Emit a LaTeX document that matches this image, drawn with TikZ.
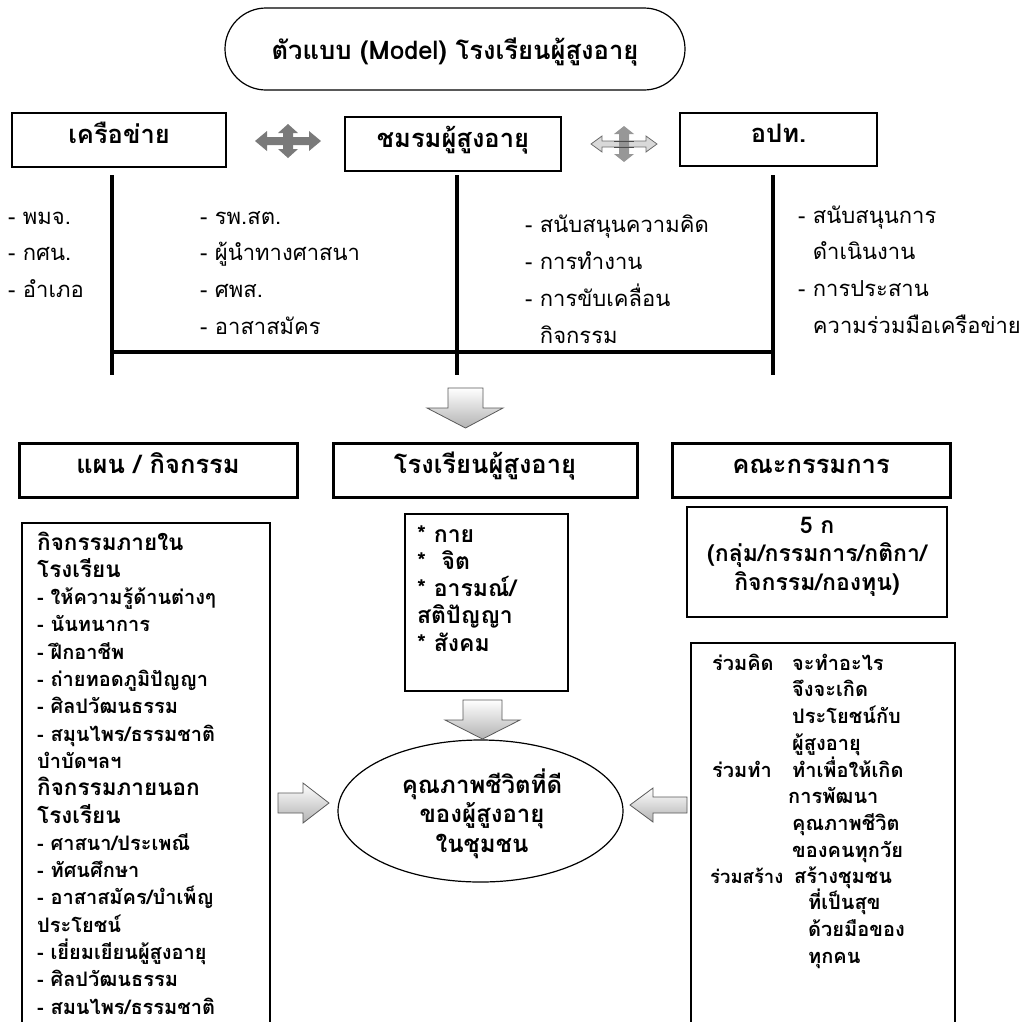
\documentclass[tikz,border=0pt]{standalone}
\usepackage{fontspec}
\setmainfont[Script=Thai]{Loma}
\usetikzlibrary{shapes.misc,shapes.geometric}
\newcommand\fsz[1]{\fontsize{#1}{#1}\selectfont}
\newcommand\Lstack[2]{\vtop{\baselineskip=#1\lineskiplimit=-100pt\lineskip=0pt\halign{##\hfil\cr#2\crcr}}}
\newcommand\Cstack[2]{\vtop{\baselineskip=#1\lineskiplimit=-100pt\lineskip=0pt\halign{\hfil##\hfil\cr#2\crcr}}}
\begin{document}
\begin{tikzpicture}[x=1pt,y=-1pt,
  topbox/.style={draw, line width=1.4pt, inner sep=0pt, text height=12pt, text depth=6pt, font=\bfseries\fsz{25.5}},
  rowbox/.style={draw, line width=3pt, inner sep=0pt, text height=12pt, text depth=6pt, font=\bfseries\fsz{25.5}},
  thinbox/.style={draw, line width=1.2pt, inner sep=0pt},
  lst/.style={anchor=base west, inner sep=0pt, font=\fsz{22}},
  bx/.style={anchor=base west, inner sep=0pt, font=\bfseries\fsz{20}},
  cbx/.style={anchor=base, inner sep=0pt, font=\bfseries\fsz{23}},
  blk/.style={draw=gray!70!black, line width=0.8pt, top color=white, bottom color=gray!60},
  bar/.style={line width=4.5pt, line cap=butt},
]
\useasboundingbox (0,0) rectangle (1033,1021);
\clip (0,0) rectangle (1033,1021);

% title
\node[rounded rectangle, draw, line width=1.2pt, minimum width=460pt, minimum height=82pt,
      inner sep=0pt, text height=20pt, text depth=0pt, font=\bfseries\fsz{25.6}] (model) at (455,49)
      {ตัวแบบ (Model) โรงเรียนผู้สูงอายุ};

% top row
\node[topbox, minimum width=214pt, minimum height=54pt] (net) at (119,140) {เครือข่าย};
\node[topbox, minimum width=216pt, minimum height=54pt] (club) at (453,144) {ชมรมผู้สูงอายุ};
\node[topbox, minimum width=197pt, minimum height=53pt] (lao) at (778.5,139.5) {อปท.};

% cross arrows
\fill[black!52] (255,141)--(267,131)--(267,137)--(309,137)--(309,131)--(321,141)--(309,151)--(309,145)--(267,145)--(267,151)--cycle;
\fill[black!52] (288,124)--(298,133)--(293,133)--(293,149)--(298,149)--(288,158)--(278,149)--(283,149)--(283,133)--(278,133)--cycle;
\filldraw[fill=gray!30, draw=gray!85!black, line width=0.8pt] (591,144)--(602,136)--(602,141)--(646,141)--(646,136)--(657,144)--(646,152)--(646,147)--(602,147)--(602,152)--cycle;
\fill[black!45, opacity=0.9] (624,126)--(634,134)--(629,134)--(629,154)--(634,154)--(624,162)--(614,154)--(619,154)--(619,134)--(614,134)--cycle;
\draw[gray!60!black, line width=0.6pt] (614,141) -- (634,141) (614,147) -- (634,147);

% lists
\node[lst] (l1) at (8,224) {\Lstack{36.7pt}{- พมจ.\cr - กศน.\cr - อำเภอ}};
\node[lst] (l2) at (200,224) {\Lstack{36.7pt}{- รพ.สต.\cr - ผู้นำทางศาสนา\cr - ศพส.\cr - อาสาสมัคร}};
\node[lst] (l3) at (525,232) {\Lstack{37pt}{- สนับสนุนความคิด\cr - การทำงาน\cr - การขับเคลื่อน\cr \phantom{- }กิจกรรม}};
\node[lst] (l4) at (798,223) {\Lstack{36.7pt}{- สนับสนุนการ\cr \phantom{- }ดำเนินงาน\cr - การประสาน\cr \phantom{- }ความร่วมมือเครือข่าย}};

% bars
\coordinate (v1t) at (112,175); \coordinate (v1b) at (112,375);
\coordinate (v2t) at (457,175); \coordinate (v2b) at (457,375);
\coordinate (v3t) at (773,175); \coordinate (v3b) at (773,375);
\coordinate (h1) at (112,352); \coordinate (h2) at (773,352);
\draw[bar] (v1t) -- (v1b);
\draw[bar] (v2t) -- (v2b);
\draw[bar] (v3t) -- (v3b);
\draw[line width=3.2pt] (h1) -- (h2);

% down arrow 1
\path[blk] (448,388)--(483,388)--(483,408)--(503,408)--(465.5,428)--(427,408)--(448,408)--cycle;

% second row
\node[rowbox, minimum width=278pt, minimum height=54pt] (plan) at (158,470) {แผน / กิจกรรม};
\node[rowbox, minimum width=304pt, minimum height=54pt] (school) at (485,470) {โรงเรียนผู้สูงอายุ};
\node[rowbox, minimum width=278pt, minimum height=54pt] (comm) at (811,470) {คณะกรรมการ};

% third row boxes
\node[thinbox, minimum width=248pt, minimum height=517pt] (acts) at (146,781.5) {};
\node[thinbox, minimum width=163pt, minimum height=177pt] (aspects) at (486.5,602.5) {};
\node[thinbox, minimum width=260pt, minimum height=110pt] (fivek) at (817,562) {};
\node[thinbox, minimum width=264pt, minimum height=397pt] (join) at (823,841.5) {};

% left box text
\node[bx, font=\bfseries\fsz{20}] (actstext) at (37,550) {\Lstack{27.3pt}{{\fsz{22.5}กิจกรรมภายใน}\cr {\fsz{22.5}โรงเรียน}\cr - ให้ความรู้ด้านต่างๆ\cr - นันทนาการ\cr - ฝึกอาชีพ\cr - ถ่ายทอดภูมิปัญญา\cr - ศิลปวัฒนธรรม\cr - สมุนไพร/ธรรมชาติ\cr บำบัดฯลฯ\cr {\fsz{22.5}กิจกรรมภายนอก}\cr {\fsz{22.5}โรงเรียน}\cr - ศาสนา/ประเพณี\cr - ทัศนศึกษา\cr - อาสาสมัคร/บำเพ็ญ\cr ประโยชน์\cr - เยี่ยมเยียนผู้สูงอายุ\cr - ศิลปวัฒนธรรม\cr - สมนไพร/ธรรมชาติ}};

% middle box text
\node[bx, font=\bfseries\fsz{23}] (aspectstext) at (417,542) {\Lstack{27.3pt}{* กาย\cr *\ \ จิต\cr * อารมณ์/\cr สติปัญญา\cr * สังคม}};

% 5k text
\node[cbx] (fivektext) at (817,533) {\Cstack{28.5pt}{5 ก\cr (กลุ่ม/กรรมการ/กติกา/\cr กิจกรรม/กองทุน)}};

% right lower box text
\node[bx] (j1) at (712,670) {ร่วมคิด};
\node[bx] (j2) at (712,777) {ร่วมทำ};
\node[bx, font=\bfseries\fsz{18.5}] (j3) at (710,883) {ร่วมสร้าง};
\node[bx] (t1) at (792,670) {\Lstack{26.7pt}{จะทำอะไร\cr จึงจะเกิด\cr ประโยชน์กับ\cr ผู้สูงอายุ}};
\node[bx] (t2) at (792,777) {\Lstack{26.7pt}{ทำเพื่อให้เกิด\cr \kern-4pt การพัฒนา\cr คุณภาพชีวิต\cr ของคนทุกวัย}};
\node[bx] (t3) at (794,883) {\Lstack{26.7pt}{สร้างชุมชน\cr \kern14pt ที่เป็นสุข\cr \kern14pt ด้วยมือของ\cr \kern14pt ทุกคน}};

% ellipse
\node[ellipse, draw, line width=1.2pt, minimum width=285pt, minimum height=142pt] (life) at (480.5,811) {};
\node[cbx, font=\bfseries\fsz{24}] (lifetext) at (482,793) {\Cstack{29.5pt}{คุณภาพชีวิตที่ดี\cr ของผู้สูงอายุ\cr ในชุมชน}};

% block arrows to ellipse
\path[blk] (463,700)--(502,700)--(502,720)--(520,720)--(482.5,739)--(445,720)--(463,720)--cycle;
\path[blk] (278,793)--(303,793)--(303,783)--(329,803)--(303,823)--(303,813)--(278,813)--cycle;
\path[blk] (687,797)--(653,797)--(653,788)--(630,805)--(653,822)--(653,813)--(687,813)--cycle;
\end{tikzpicture}
\end{document}
